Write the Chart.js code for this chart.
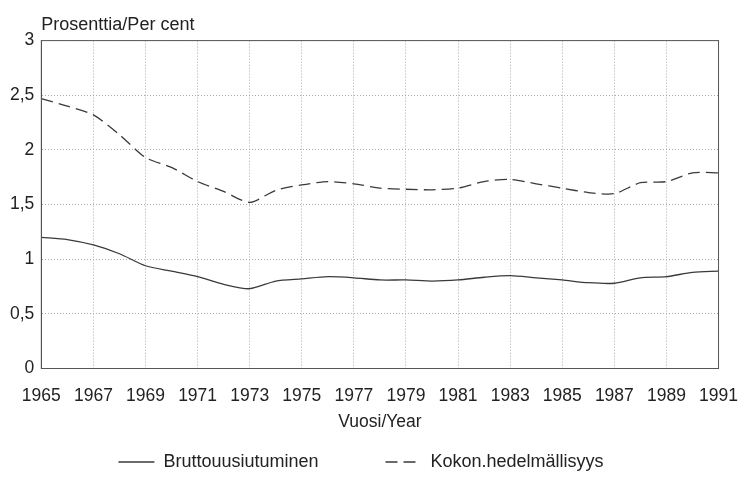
<!DOCTYPE html>
<html>
<head>
<meta charset="utf-8">
<script src="https://cdn.jsdelivr.net/npm/chart.js@4/dist/chart.umd.min.js"></script>
<style>
  html, body { margin: 0; padding: 0; background: #fff; }
  #wrap { width: 741px; height: 482px; }
</style>
</head>
<body>
<div id="wrap"><canvas id="chart" width="741" height="482"></canvas></div>
<script>
// vuodet ja sarjat
const years = [1965, 1966, 1967, 1968, 1969, 1970, 1971, 1972, 1973, 1974, 1975, 1976, 1977, 1978,
  1979, 1980, 1981, 1982, 1983, 1984, 1985, 1986, 1987, 1988, 1989, 1990, 1991];
const brutto = [1.20, 1.18, 1.13, 1.05, 0.94, 0.89, 0.84, 0.77, 0.73, 0.80, 0.82, 0.84, 0.83, 0.81,
  0.81, 0.80, 0.81, 0.835, 0.85, 0.83, 0.81, 0.785, 0.78, 0.83, 0.84, 0.88, 0.89];
const hedelmallisyys = [2.47, 2.40, 2.32, 2.14, 1.93, 1.84, 1.71, 1.62, 1.52, 1.63, 1.68, 1.71, 1.69, 1.65,
  1.64, 1.635, 1.65, 1.71, 1.73, 1.69, 1.65, 1.61, 1.60, 1.70, 1.71, 1.79, 1.79];
const seriesNames = ["Bruttouusiutuminen", "Kokon.hedelmällisyys"];

const ink = "#222";
const lineCol = "#3a3a3a";
const dash = [12, 6];
Chart.defaults.font.family = "'Liberation Sans', Arial, sans-serif";
Chart.defaults.color = ink;

const toPoints = vals => vals.map((v, i) => ({ x: years[i], y: v }));

// kehys myös ylä- ja oikeaan reunaan
const frame = {
  id: "frame",
  afterDatasetsDraw(chart) {
    const a = chart.chartArea, c = chart.ctx;
    c.save();
    c.strokeStyle = "#555";
    c.lineWidth = 1;
    c.strokeRect(a.left, a.top, a.right - a.left, a.bottom - a.top);
    c.restore();
  }
};

new Chart(document.getElementById("chart"), {
  type: "line",
  data: {
    datasets: [
      {
        label: seriesNames[0],
        data: toPoints(brutto),
        borderColor: lineCol,
        borderWidth: 1.3,
        pointRadius: 0,
        tension: 0.25
      },
      {
        label: seriesNames[1],
        data: toPoints(hedelmallisyys),
        borderColor: lineCol,
        borderWidth: 1.3,
        borderDash: dash,
        pointRadius: 0,
        tension: 0.25
      }
    ]
  },
  options: {
    responsive: false,
    animation: false,
    layout: { padding: { left: 3, right: 22, top: 14, bottom: 1 } },
    plugins: {
      title: {
        display: true,
        text: "Prosenttia/Per cent",
        align: "start",
        fullSize: false,
        font: { size: 18, weight: "normal" },
        color: ink,
        padding: { top: 0, bottom: 5 }
      },
      legend: {
        position: "bottom",
        labels: {
          usePointStyle: true,
          pointStyle: "line",
          pointStyleWidth: 36,
          padding: 12,
          color: ink,
          font: { size: 18 },
          generateLabels(chart) {
            const items = Chart.defaults.plugins.legend.labels.generateLabels(chart);
            items.forEach((it, i) => {
              it.lineDash = chart.data.datasets[i].borderDash || [];
              it.strokeStyle = lineCol;
            });
            // väli kohteiden välille
            items[0].text += "           ";
            return items;
          }
        }
      },
      tooltip: { enabled: false }
    },
    scales: {
      x: {
        type: "linear",
        min: 1965,
        max: 1991,
        ticks: {
          stepSize: 2,
          padding: 3,
          font: { size: 17.5 },
          callback: v => String(v)
        },
        grid: { color: "#aaa", drawTicks: true, tickLength: 14, tickColor: "rgba(0,0,0,0)" },
        border: { color: "#555", dash: [1, 2] },
        title: {
          display: true,
          text: "Vuosi/Year",
          font: { size: 17.5 },
          padding: { top: 2, bottom: 8.5 }
        }
      },
      y: {
        min: 0,
        max: 3,
        ticks: {
          stepSize: 0.5,
          padding: 7,
          font: { size: 17.5 },
          callback: v => String(v).replace(".", ",")
        },
        grid: { color: "#aaa", drawTicks: false },
        border: { color: "#555", dash: [1, 2] }
      }
    }
  },
  plugins: [frame]
});
</script>
</body>
</html>
